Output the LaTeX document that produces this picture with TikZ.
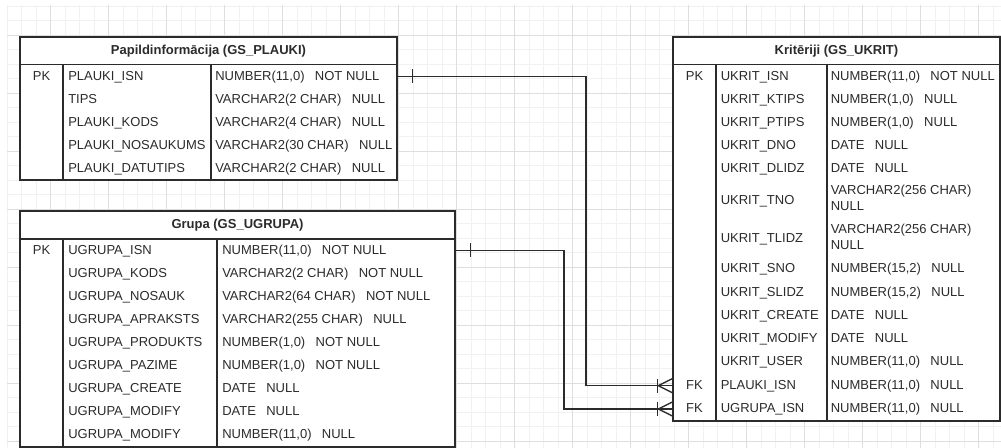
\documentclass[tikz,border=0pt]{standalone}
\usepackage{fontspec}
\setmainfont{Liberation Sans}
\usetikzlibrary{positioning,calc,fit}
\definecolor{Ink}{HTML}{2B2B2B}
\definecolor{GridMinor}{HTML}{F1F1F1}
\definecolor{GridMajor}{HTML}{DEDEDE}
\newcommand{\colgap}{\hspace{0.8em}}

\begin{document}
\begin{tikzpicture}[x=0.75pt,y=-0.75pt,
    every node/.style={font=\fontsize{9.75}{11.8}\selectfont,text=Ink},
    frame/.style={draw=Ink,fill=white,line width=1.1pt,inner sep=0pt},
    title/.style={inner sep=0pt,font=\fontsize{9.75}{11.8}\selectfont\bfseries,text height=.74em,text depth=.2em},
    cell/.style={anchor=west,inner sep=0pt,text height=.74em,text depth=.2em},
    keycell/.style={cell,anchor=center},
    twoline/.style={anchor=base west,inner sep=0pt},
    divider/.style={draw=Ink,line width=1.1pt},
    rel/.style={draw=Ink,line width=1pt},
    minor/.style={draw=GridMinor,line width=0.75pt},
    major/.style={draw=GridMajor,line width=0.75pt}
  ]
  \useasboundingbox (0,0) rectangle (1001,448);

  % background grid
  \foreach \gx in {7.2,21.7,...,1001} \draw[minor] (\gx,5) -- (\gx,448);
  \foreach \gy in {6.3,20.8,...,448} \draw[minor] (7,\gy) -- (1001,\gy);
  \foreach \gx in {50.7,108.7,...,1001} \draw[major] (\gx,5) -- (\gx,448);
  \foreach \gy in {35.3,93.3,...,448} \draw[major] (7,\gy) -- (1001,\gy);

  % GS_PLAUKI
  \node[frame,fit={(20,37) (397,64.5)}] (pl-head) {};
  \node[title] (pl-title) at (pl-head.center) {Papildinformācija (GS\_PLAUKI)};
  \node[frame,fit={(20,64.5) (397,180)}] (pl-body) {};
  \draw[divider] (pl-body.north -| 63,0) -- (pl-body.south -| 63,0);
  \draw[divider] (pl-body.north -| 211,0) -- (pl-body.south -| 211,0);
  \node[keycell] (pl-pk) at (41.5,76.5) {PK};
  \node[cell] (pl-isn) at (68,76.5) {PLAUKI\_ISN};
  \node[cell] (pl-isn-t) at (215,76.5) {NUMBER(11,0)\colgap NOT NULL};
  \node[cell] (pl-tips) at (68,99.5) {TIPS};
  \node[cell] (pl-tips-t) at (215,99.5) {VARCHAR2(2 CHAR)\colgap NULL};
  \node[cell] (pl-kods) at (68,122.5) {PLAUKI\_KODS};
  \node[cell] (pl-kods-t) at (215,122.5) {VARCHAR2(4 CHAR)\colgap NULL};
  \node[cell] (pl-nos) at (68,145.5) {PLAUKI\_NOSAUKUMS};
  \node[cell] (pl-nos-t) at (215,145.5) {VARCHAR2(30 CHAR)\colgap NULL};
  \node[cell] (pl-dt) at (68,168.5) {PLAUKI\_DATUTIPS};
  \node[cell] (pl-dt-t) at (215,168.5) {VARCHAR2(2 CHAR)\colgap NULL};

  % GS_UGRUPA
  \node[frame,fit={(20,211) (455,239)}] (ug-head) {};
  \node[title] (ug-title) at (ug-head.center) {Grupa (GS\_UGRUPA)};
  \node[frame,fit={(20,239) (455,447)}] (ug-body) {};
  \draw[divider] (ug-body.north -| 63,0) -- (ug-body.south -| 63,0);
  \draw[divider] (ug-body.north -| 217,0) -- (ug-body.south -| 217,0);
  \node[keycell] (ug-pk) at (41.5,250.5) {PK};
  \node[cell] (ug-isn) at (68,250.5) {UGRUPA\_ISN};
  \node[cell] (ug-isn-t) at (222,250.5) {NUMBER(11,0)\colgap NOT NULL};
  \node[cell] (ug-kods) at (68,273.6) {UGRUPA\_KODS};
  \node[cell] (ug-kods-t) at (222,273.6) {VARCHAR2(2 CHAR)\colgap NOT NULL};
  \node[cell] (ug-nos) at (68,296.7) {UGRUPA\_NOSAUK};
  \node[cell] (ug-nos-t) at (222,296.7) {VARCHAR2(64 CHAR)\colgap NOT NULL};
  \node[cell] (ug-apr) at (68,319.8) {UGRUPA\_APRAKSTS};
  \node[cell] (ug-apr-t) at (222,319.8) {VARCHAR2(255 CHAR)\colgap NULL};
  \node[cell] (ug-prod) at (68,342.9) {UGRUPA\_PRODUKTS};
  \node[cell] (ug-prod-t) at (222,342.9) {NUMBER(1,0)\colgap NOT NULL};
  \node[cell] (ug-paz) at (68,366) {UGRUPA\_PAZIME};
  \node[cell] (ug-paz-t) at (222,366) {NUMBER(1,0)\colgap NOT NULL};
  \node[cell] (ug-cre) at (68,389.1) {UGRUPA\_CREATE};
  \node[cell] (ug-cre-t) at (222,389.1) {DATE\colgap NULL};
  \node[cell] (ug-mod) at (68,412.2) {UGRUPA\_MODIFY};
  \node[cell] (ug-mod-t) at (222,412.2) {DATE\colgap NULL};
  \node[cell] (ug-usr) at (68,435.3) {UGRUPA\_MODIFY};
  \node[cell] (ug-usr-t) at (222,435.3) {NUMBER(11,0)\colgap NULL};

  % GS_UKRIT
  \node[frame,fit={(673,37) (1000,64.5)}] (uk-head) {};
  \node[title] (uk-title) at (uk-head.center) {Kritēriji (GS\_UKRIT)};
  \node[frame,fit={(673,64.5) (1000,421)}] (uk-body) {};
  \draw[divider] (uk-body.north -| 716,0) -- (uk-body.south -| 716,0);
  \draw[divider] (uk-body.north -| 827,0) -- (uk-body.south -| 827,0);
  \node[keycell] (uk-pk) at (694.5,76.5) {PK};
  \node[cell] (uk-isn) at (720.5,76.5) {UKRIT\_ISN};
  \node[cell] (uk-isn-t) at (830.5,76.5) {NUMBER(11,0)\colgap NOT NULL};
  \node[cell] (uk-ktips) at (720.5,99.5) {UKRIT\_KTIPS};
  \node[cell] (uk-ktips-t) at (830.5,99.5) {NUMBER(1,0)\colgap NULL};
  \node[cell] (uk-ptips) at (720.5,122.5) {UKRIT\_PTIPS};
  \node[cell] (uk-ptips-t) at (830.5,122.5) {NUMBER(1,0)\colgap NULL};
  \node[cell] (uk-dno) at (720.5,145.5) {UKRIT\_DNO};
  \node[cell] (uk-dno-t) at (830.5,145.5) {DATE\colgap NULL};
  \node[cell] (uk-dlidz) at (720.5,168.5) {UKRIT\_DLIDZ};
  \node[cell] (uk-dlidz-t) at (830.5,168.5) {DATE\colgap NULL};
  \node[cell] (uk-tno) at (720.5,200.5) {UKRIT\_TNO};
  \node[twoline] (uk-tno-t) at (830.5,195) {\parbox[t]{4cm}{VARCHAR2(256 CHAR)\\NULL}};
  \node[cell] (uk-tlidz) at (720.5,239.2) {UKRIT\_TLIDZ};
  \node[twoline] (uk-tlidz-t) at (830.5,234) {\parbox[t]{4cm}{VARCHAR2(256 CHAR)\\NULL}};
  \node[cell] (uk-sno) at (720.5,269.2) {UKRIT\_SNO};
  \node[cell] (uk-sno-t) at (830.5,269.2) {NUMBER(15,2)\colgap NULL};
  \node[cell] (uk-slidz) at (720.5,292.5) {UKRIT\_SLIDZ};
  \node[cell] (uk-slidz-t) at (830.5,292.5) {NUMBER(15,2)\colgap NULL};
  \node[cell] (uk-cre) at (720.5,315.8) {UKRIT\_CREATE};
  \node[cell] (uk-cre-t) at (830.5,315.8) {DATE\colgap NULL};
  \node[cell] (uk-mod) at (720.5,339.1) {UKRIT\_MODIFY};
  \node[cell] (uk-mod-t) at (830.5,339.1) {DATE\colgap NULL};
  \node[cell] (uk-usr) at (720.5,362.4) {UKRIT\_USER};
  \node[cell] (uk-usr-t) at (830.5,362.4) {NUMBER(11,0)\colgap NULL};
  \node[keycell] (uk-fk1) at (694.5,385.7) {FK};
  \node[cell] (uk-fkpl) at (720.5,385.7) {PLAUKI\_ISN};
  \node[cell] (uk-fkpl-t) at (830.5,385.7) {NUMBER(11,0)\colgap NULL};
  \node[keycell] (uk-fk2) at (694.5,409) {FK};
  \node[cell] (uk-fkug) at (720.5,409) {UGRUPA\_ISN};
  \node[cell] (uk-fkug-t) at (830.5,409) {NUMBER(11,0)\colgap NULL};

  % relations
  \coordinate (bend-pl) at (586,0);
  \coordinate (bend-ug) at (564,0);
  \draw[rel] (pl-body.east |- pl-isn) -- (bend-pl |- pl-isn) -- (bend-pl |- uk-fkpl) -- (uk-body.west |- uk-fkpl);
  \draw[rel] (ug-body.east |- ug-isn) -- (bend-ug |- ug-isn) -- (bend-ug |- uk-fkug) -- (uk-body.west |- uk-fkug);
  % one
  \draw[rel] ($(pl-body.east |- pl-isn)+(15,-7)$) -- ++(0,14);
  \draw[rel] ($(ug-body.east |- ug-isn)+(15,-7)$) -- ++(0,14);
  % many
  \draw[rel] ($(uk-body.west |- uk-fkpl)+(-15,-7)$) -- ++(0,14);
  \draw[rel] ($(uk-body.west |- uk-fkpl)+(0,-7)$) -- ++(-14,7) -- ++(14,7);
  \draw[rel] ($(uk-body.west |- uk-fkug)+(-15,-7)$) -- ++(0,14);
  \draw[rel] ($(uk-body.west |- uk-fkug)+(0,-7)$) -- ++(-14,7) -- ++(14,7);
\end{tikzpicture}
\end{document}
